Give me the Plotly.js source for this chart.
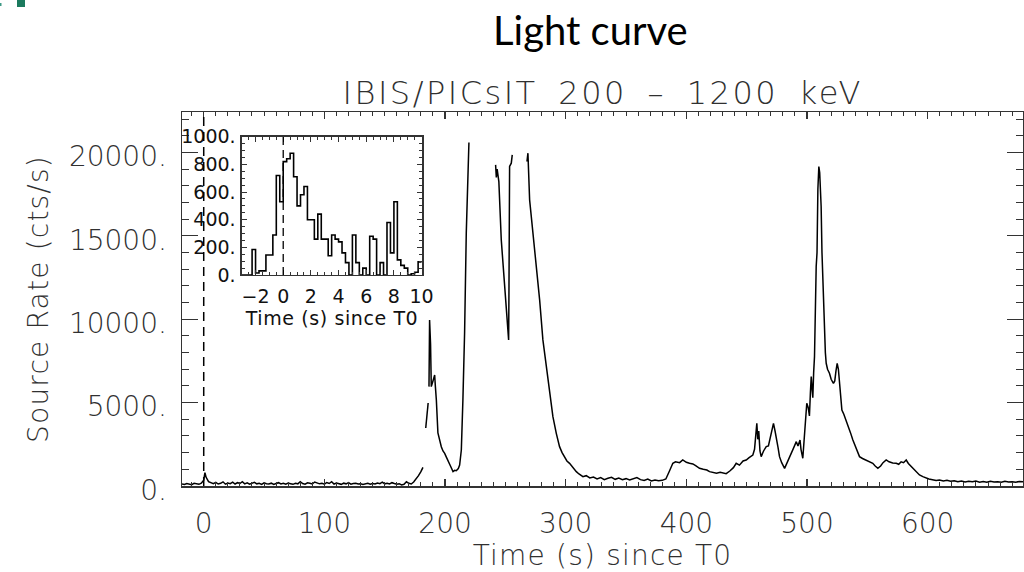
<!DOCTYPE html>
<html>
<head>
<meta charset="utf-8">
<script src="https://cdn.plot.ly/plotly-3.0.1.min.js"></script>
<style>
  html, body { margin: 0; padding: 0; background: #fff; }
  #chart { width: 1024px; height: 572px; }
  #chart text.xtitle, #chart text.ytitle { letter-spacing: 1.2px; }
  #chart text.x2title { letter-spacing: 0.6px; }
  #chart g.annotation[data-index="1"] text.annotation-text { letter-spacing: 2.5px; word-spacing: 8px; }
</style>
</head>
<body>
<div id="chart"></div>
<script>
// ---------------- Main light curve (IBIS/PICsIT 200-1200 keV) ----------------
const mainTime = [
  -18,-16,-14,-12,-10,-8,-6,-4,-2,0,1,2,4,6,8,10,12,14,16,18,20,22,24,26,28,30,32,34,36,38,
  40,42,44,46,48,50,52,54,56,58,60,62,64,66,68,70,72,74,76,78,80,82,84,86,88,90,92,94,96,98,
  100,102,104,106,108,110,112,114,116,118,120,122,124,126,128,130,132,134,136,138,140,142,144,146,148,150,
  152,154,156,158,160,162,164,166,168,170,172,174,176,178,180,181.7,183,184,186,186.3,186.7,187.2,188,188.6,
  190,191.4,192,192.8,194.1,195.5,196.9,198.3,199.7,201,202.4,204.5,206.6,208,209.3,211,212.1,213.5,214.8,216.2,
  217.6,219,219.8,220,241.9,242.5,243.2,244,244.6,246.6,248.5,250.8,251.5,252.7,253,253.5,254.9,255.7,256,
  267.9,268.7,270.1,272.8,275.6,278.4,281.1,283.9,286.7,289.4,292.2,294.9,297,299.1,301,303.2,306,308.8,311,314.3,
  317,320,323,326,329,332,335,338,341,344,347,350,353,356,359,362,365,368,371,374,377,380,383,386,388.8,391,
  394.4,397,400,402.6,405.4,408,410.9,414,417,419.2,422,425,428,431,433,436,439,441.3,444,447,449.6,452,455.1,
  456.5,457.5,458.4,459.2,460,461,462,464,466.2,468,469,470.5,472.2,473.5,474.5,476,477.2,479,481.4,483,485.5,
  487,489,491.1,492.5,494.2,495,496.5,497.5,498.5,499.8,501,502,502.8,503.5,504.2,504.8,505.5,506.2,507.6,508.3,
  509,509.8,510.5,511.2,511.7,512.4,513.1,513.8,514.5,515.2,515.9,517,518.6,520,521.9,523,524,525,526,527,528,
  528.9,530.5,532.4,534,536,538,540,542,543.5,546,549,552,554.5,556.5,558.7,561,563,565.6,568,571,573.9,576,578,
  580,582.2,584,586,587.7,590,593.2,596,598.8,601,604,607,609.8,613,616,619,622,625,628,631,634,637,640,643,646,
  649,652,655,658,661,664,667,670,673,676,679
];
const mainRate = [
  120,90,150,110,80,160,130,100,170,350,800,520,260,180,140,220,120,160,250,110,180,140,230,120,200,150,260,130,190,110,
  170,220,130,160,100,190,140,120,170,90,150,200,120,160,110,180,140,100,160,130,260,150,110,190,170,120,240,180,130,160,
  110,210,150,260,120,180,140,100,170,130,200,110,150,170,120,140,90,130,160,110,150,120,180,140,230,130,
  160,120,200,150,110,140,60,100,250,160,120,240,420,620,860,1120,null,3480,4980,null,5960,9960,8500,5960,
  6300,6660,5960,5160,3180,2700,2360,2100,1960,1750,1560,1200,860,940,920,1050,1260,2160,5160,9180,
  15180,19160,20600,null,19260,18500,19000,18300,18260,14760,12760,10360,10000,8760,12000,19160,19360,19860,null,
  19460,19960,17160,15160,13360,11160,8760,7160,5560,4160,3160,2360,2000,1760,1500,1360,1100,860,720,560,
  620,480,540,420,500,380,460,520,400,470,380,440,360,420,500,380,330,420,300,360,320,340,420,900,1360,1450,
  1400,1560,1420,1360,1320,1200,1060,1000,960,860,820,760,820,760,740,900,1100,1360,1250,1500,1560,1700,1860,
  2200,3200,3760,2800,3300,2100,1760,2100,2360,2400,2700,3100,3760,3300,2960,2300,1760,1400,1060,1300,1760,
  2000,2300,2660,2400,2760,2200,1660,2500,3800,4960,4700,4200,5600,6560,5800,5300,6800,7760,13160,14000,
  17800,19160,18800,17500,16760,14000,12360,10500,8960,8000,7360,7000,6760,6400,6160,6300,6900,7360,7000,6200,5200,
  4560,4300,3960,3600,3200,2760,2400,2000,1760,1650,1560,1450,1360,1200,1060,1200,1400,1560,1450,1380,1360,1300,1450,
  1400,1560,1350,1200,1060,850,660,560,460,420,380,330,360,300,340,280,320,260,300,240,280,250,300,230,270,
  220,280,240,260,220,280,240,260,230,270,250
];

// ---------------- Inset: first seconds, 0.25 s bins ----------------
const insetEdges = [
  -3,-2.75,-2.5,-2.25,-2,-1.75,-1.5,-1.25,-1,-0.75,-0.5,-0.25,0,0.25,0.5,0.75,1,1.25,1.5,1.75,2,2.25,2.5,2.75,3,3.25,
  3.5,3.75,4,4.25,4.5,4.75,5,5.25,5.5,5.75,6,6.25,6.5,6.75,7,7.25,7.5,7.75,8,8.25,8.5,8.75,9,9.25,9.5,9.75,10
];
const insetRate = [
  0,0,0,185,15,30,30,145,145,290,720,530,820,840,880,710,500,580,640,400,400,260,440,260,260,140,
  290,260,240,160,90,0,290,90,0,50,0,280,260,0,90,0,380,160,530,110,70,50,0,10,20,95
];

// ---------------- Tick labels ----------------
const mainXTicks = [0,100,200,300,400,500,600];
const mainYTickVals = [0,5000,10000,15000,20000];
const mainYTickText = ['0.','5000.','10000.','15000.','20000.'];
const insetXTicks = [-2,0,2,4,6,8,10];
const insetYTickVals = [0,200,400,600,800,1000];
const insetYTickText = ['0.','200.','400.','600.','800.','1000.'];

const insetX = insetEdges.slice();
const insetY = insetRate.concat([insetRate[insetRate.length-1]]);

const IDL_FONT = 'DejaVu Sans';
const TXT = '#303030';
const AX = '#333333';
const W = 200;

const traces = [
  {
    x: mainTime, y: mainRate, type: 'scatter', mode: 'lines',
    line: {color: '#000', width: 1.5}, connectgaps: false,
    xaxis: 'x', yaxis: 'y', hoverinfo: 'skip', showlegend: false
  },
  {
    x: insetX, y: insetY, type: 'scatter', mode: 'lines',
    line: {color: '#000', width: 1.6, shape: 'hv'},
    xaxis: 'x2', yaxis: 'y2', hoverinfo: 'skip', showlegend: false
  }
];

const layout = {
  width: 1024, height: 572,
  paper_bgcolor: '#fff', plot_bgcolor: 'rgba(0,0,0,0)',
  margin: {l: 182, r: 1, t: 112, b: 86},
  showlegend: false,
  font: {family: IDL_FONT, color: TXT},
  xaxis: {
    domain: [0, 1], range: [-18, 679],
    tickvals: mainXTicks, ticks: 'inside', ticklen: 7, tickwidth: 1.2, tickcolor: AX,
    minor: {dtick: 10, ticks: 'inside', ticklen: 4, tickwidth: 1, tickcolor: AX},
    showline: true, linecolor: AX, linewidth: 1.5, mirror: 'ticks',
    showgrid: false, zeroline: false, ticklabelstandoff: 12,
    tickfont: {family: IDL_FONT, size: 28, color: TXT, weight: W},
    title: {text: 'Time (s) since T0', font: {family: IDL_FONT, size: 28, color: TXT, weight: W}, standoff: 2}
  },
  yaxis: {
    domain: [0, 1], range: [0, 22430],
    tickvals: mainYTickVals, ticktext: mainYTickText,
    ticks: 'inside', ticklen: 16, tickwidth: 1.2, tickcolor: AX,
    minor: {dtick: 1000, ticks: 'inside', ticklen: 7, tickwidth: 1, tickcolor: AX},
    showline: true, linecolor: AX, linewidth: 1.5, mirror: 'ticks',
    showgrid: false, zeroline: false, ticklabelstandoff: 8, ticklabelshift: 4,
    tickfont: {family: IDL_FONT, size: 28, color: TXT, weight: W},
    title: {text: 'Source Rate (cts/s)', font: {family: IDL_FONT, size: 28, color: TXT, weight: W}, standoff: 12}
  },
  xaxis2: {
    domain: [0.071, 0.2857], anchor: 'y2', range: [-3, 10.05],
    tickvals: insetXTicks, ticks: 'inside', ticklen: 5, tickwidth: 1, tickcolor: AX,
    minor: {dtick: 0.5, ticks: 'inside', ticklen: 3, tickwidth: 1, tickcolor: AX},
    showline: true, linecolor: AX, linewidth: 1.3, mirror: 'ticks',
    showgrid: false, zeroline: false, ticklabelstandoff: 4,
    tickfont: {family: IDL_FONT, size: 19, color: '#111'},
    title: {text: 'Time (s) since T0', font: {family: IDL_FONT, size: 19, color: '#111'}, standoff: 2}
  },
  yaxis2: {
    domain: [0.564, 0.934], anchor: 'x2', range: [0, 1000],
    tickvals: insetYTickVals, ticktext: insetYTickText,
    ticks: 'inside', ticklen: 5, tickwidth: 1, tickcolor: AX,
    minor: {dtick: 50, ticks: 'inside', ticklen: 3, tickwidth: 1, tickcolor: AX},
    showline: true, linecolor: AX, linewidth: 1.3, mirror: 'ticks',
    showgrid: false, zeroline: false, ticklabelstandoff: 1,
    tickfont: {family: IDL_FONT, size: 19, color: '#111'}
  },
  shapes: [
    {type: 'line', xref: 'x', yref: 'paper', x0: 0, x1: 0, y0: 0, y1: 1,
     line: {color: '#000', width: 1.5, dash: '9px,6px'}},
    {type: 'line', xref: 'x2', yref: 'y2 domain', x0: 0, x1: 0, y0: 0, y1: 1,
     line: {color: '#000', width: 1.3, dash: '8px,5px'}},
    {type: 'rect', xref: 'paper', yref: 'paper', x0: (17-182)/841, x1: (25-182)/841,
     y0: (486-7)/374, y1: (486+2)/374, fillcolor: '#1b7a5e', line: {width: 0}},
    {type: 'rect', xref: 'paper', yref: 'paper', x0: (0-182)/841, x1: (1.5-182)/841,
     y0: (486-6)/374, y1: (486-3)/374, fillcolor: '#3f9a86', line: {width: 0}}
  ],
  annotations: [
    {text: 'Light curve', xref: 'paper', yref: 'paper', x: (590-182)/841, y: (486-30)/374,
     showarrow: false, xanchor: 'center', yanchor: 'middle',
     font: {family: 'Lato', size: 40, color: '#000'}},
    {text: 'IBIS/PICsIT 200 \u2013 1200 keV', xref: 'paper', yref: 'paper', x: (602-182)/841, y: (486-93)/374,
     showarrow: false, xanchor: 'center', yanchor: 'middle',
     font: {family: IDL_FONT, size: 32, color: TXT, weight: W}}
  ]
};

Plotly.newPlot('chart', traces, layout, {displayModeBar: false, staticPlot: true});
</script>
</body>
</html>
